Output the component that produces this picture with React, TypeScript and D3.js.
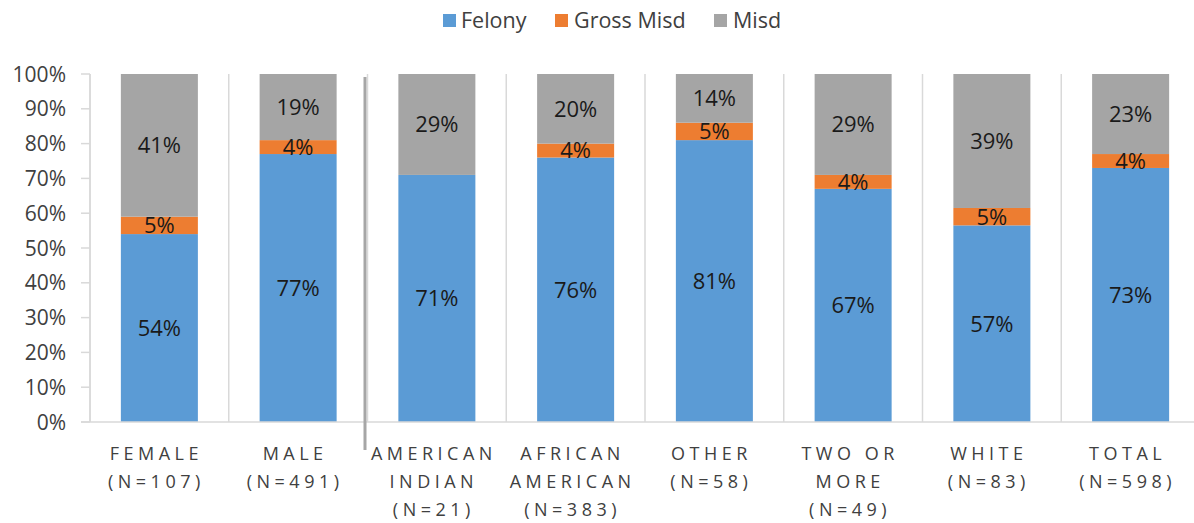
import React from 'react';
import { scaleBand, scaleLinear, stack, stackOffsetExpand, range } from 'd3';

const categories = ['FEMALE', 'MALE', 'AMERICAN INDIAN', 'AFRICAN AMERICAN', 'OTHER', 'TWO OR MORE', 'WHITE', 'TOTAL'];
const categoryLines = [
  ['FEMALE', '(N=107)'],
  ['MALE', '(N=491)'],
  ['AMERICAN', 'INDIAN', '(N=21)'],
  ['AFRICAN', 'AMERICAN', '(N=383)'],
  ['OTHER', '(N=58)'],
  ['TWO OR', 'MORE', '(N=49)'],
  ['WHITE', '(N=83)'],
  ['TOTAL', '(N=598)'],
];
const felony = [54, 77, 71, 76, 81, 67, 56.5, 73];
const grossMisd = [5, 4, 0, 4, 5, 4, 5, 4];
const misd = [41, 19, 29, 20, 14, 29, 38.5, 23];
const seriesNames = ['Felony', 'Gross Misd', 'Misd'];
const seriesColors = ['#5B9BD5', '#ED7D31', '#A5A5A5'];
const yTicks = range(0, 1.01, 0.1);

const width = 1194;
const height = 523;
const margin = { top: 74, right: -6, bottom: 101, left: 90 };
const font = '"Open Sans", "Noto Sans", sans-serif';

export default function App() {
  const rows = categories.map((c, i) => ({ cat: c, Felony: felony[i], 'Gross Misd': grossMisd[i], Misd: misd[i] }));
  const series = stack<any>().keys(seriesNames).offset(stackOffsetExpand)(rows);

  const x0 = margin.left;
  const x1 = width - margin.right;
  const yBottom = height - margin.bottom;

  const xBand = scaleBand<string>().domain(categories).range([x0, x1]).padding(0);
  const p = 0.445;
  const xBar = scaleBand<string>().domain(categories).range([x0, x1]).paddingInner(p).paddingOuter(p / 2);
  const y = scaleLinear().domain([0, 1]).range([yBottom, margin.top]);

  const ls = 4.5;

  return (
    <svg width={width} height={height} style={{ position: 'absolute', left: 0, top: 0 }}>
      <rect width={width} height={height} fill="#fff" />
      {/* legend */}
      {(() => {
        const items = [
          { x: 443, tx: 461 },
          { x: 555, tx: 574 },
          { x: 714, tx: 733 },
        ];
        return seriesNames.map((s, i) => (
          <g key={s}>
            <rect x={items[i].x} y={14} width={13} height={13} fill={seriesColors[i]} />
            <text x={items[i].tx} y={28} fontFamily={font} fontSize={21.5} fill="#404040">{s}</text>
          </g>
        ));
      })()}

      {/* category separators */}
      {categories.map((c) => (
        <line key={'sep' + c} x1={xBand(c)!} x2={xBand(c)!} y1={y(1)} y2={yBottom} stroke="#D9D9D9" strokeWidth={1.5} />
      ))}

      {/* bars */}
      {series.map((s, si) => (
        <g key={s.key} fill={seriesColors[si]}>
          {s.map((d: any) => (
            <rect key={d.data.cat} x={xBar(d.data.cat)} y={y(d[1])} width={xBar.bandwidth()} height={Math.max(0, y(d[0]) - y(d[1]))} />
          ))}
        </g>
      ))}

      {/* data labels */}
      {series.map((s) => (
        <g key={'lab' + s.key}>
          {s.map((d: any) => {
            const v = d.data[s.key];
            if (!v) return null;
            return (
              <text key={d.data.cat} x={xBar(d.data.cat)! + xBar.bandwidth() / 2} y={(y(d[0]) + y(d[1])) / 2} dy="0.36em"
                textAnchor="middle" fontFamily={font} fontSize={22} fill="#1a1a1a">
                {Math.round(v) + '%'}
              </text>
            );
          })}
        </g>
      ))}

      {/* axes */}
      <line x1={x0} x2={x0} y1={y(1)} y2={yBottom} stroke="#D9D9D9" strokeWidth={1.5} />
      <line x1={x0 - 9} x2={width} y1={yBottom} y2={yBottom} stroke="#D9D9D9" strokeWidth={1.5} />
      {yTicks.map(t => (
        <g key={t}>
          <line x1={x0 - 9} x2={x0} y1={y(t)} y2={y(t)} stroke="#D9D9D9" strokeWidth={1.5} />
          <text x={66} y={y(t)} dy="0.36em" textAnchor="end" fontFamily={font} fontSize={21} fill="#404040">
            {Math.round(t * 100) + '%'}
          </text>
        </g>
      ))}

      {/* category labels */}
      {categories.map((c, i) => (
        <text key={'cl' + c} fontFamily={font} fontSize={18} fill="#404040" letterSpacing={ls} textAnchor="middle">
          {categoryLines[i].map((l, li) => (
            <tspan key={li} x={xBand(c)! + xBand.bandwidth() / 2 - 3} y={460 + li * 28}>{l}</tspan>
          ))}
        </text>
      ))}

      {/* group divider */}
      <line x1={365} x2={365} y1={77} y2={450} stroke="#A6A6A6" strokeWidth={3} />
    </svg>
  );
}
